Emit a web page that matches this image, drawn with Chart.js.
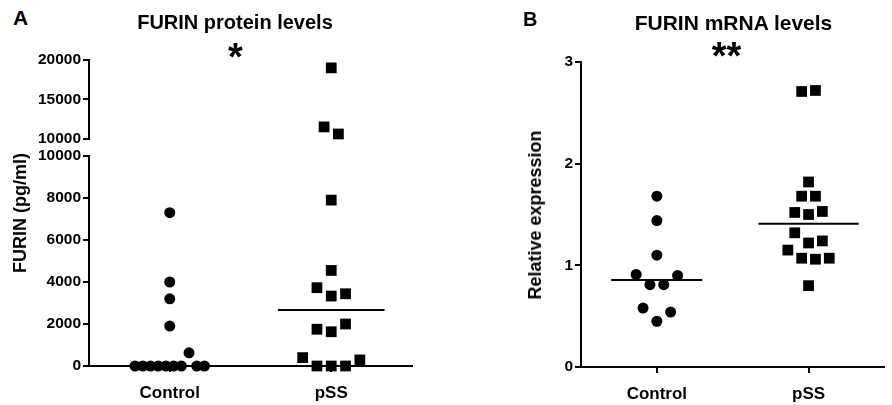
<!DOCTYPE html>
<html><head><meta charset="utf-8">
<script src="https://cdn.jsdelivr.net/npm/chart.js@4"></script>
<style>
html,body{margin:0;padding:0;background:#fff;}
#wrap{position:relative;width:892px;height:405px;overflow:hidden;font-family:"Liberation Sans",Arial,sans-serif;font-weight:bold;color:#000;}
.box{position:absolute;}
.t{position:absolute;white-space:nowrap;line-height:1;}
.c{text-align:center;width:400px;}
.r{transform:translate(-50%,-50%) rotate(-90deg);}
</style></head><body>
<div id="wrap">
  <div class="box" style="left:0;top:40px"><canvas id="aTop" width="430" height="110"></canvas></div>
  <div class="box" style="left:0;top:140px"><canvas id="aLow" width="430" height="265"></canvas></div>
  <div class="box" style="left:460px;top:0"><canvas id="bChart" width="432" height="405"></canvas></div>
  <div class="t" style="left:13px;top:7px;font-size:21px">A</div>
  <div class="t" style="left:523px;top:9px;font-size:20px">B</div>
  <div class="t c" style="left:35px;top:11.5px;font-size:20px">FURIN protein levels</div>
  <div class="t c" style="left:533.5px;top:12px;font-size:21px">FURIN mRNA levels</div>
  <div class="t c" style="left:35.5px;top:38px;font-size:38px">*</div>
  <div class="t c" style="left:526.5px;top:37px;font-size:38px">**</div>
  <div class="t r" style="left:19.5px;top:213px;font-size:18px">FURIN (pg/ml)</div>
  <div class="t r" style="left:534.5px;top:215px;font-size:18px">Relative expression</div>
</div>
<script>
// ---- data ----
const categories = ['Control', 'pSS'];
const proteinControl = [7300, 4000, 3200, 1900, 0, 0, 0, 0, 0, 0, 0, 630, 0, 0];
const proteinPSS = [19000, 11500, 10600, 7900, 4550, 3730, 3330, 3440, 1750, 1630, 2000, 400, 0, 0, 0, 290];
const mrnaControl = [1.68, 1.44, 1.10, 0.91, 0.81, 0.81, 0.90, 0.58, 0.45, 0.54];
const mrnaPSS = [2.71, 2.72, 1.82, 1.68, 1.68, 1.52, 1.50, 1.53, 1.32, 1.22, 1.24, 1.15, 1.07, 1.06, 1.07, 0.80];
const proteinBreak = 10000;
const proteinUpperTicks = [10000, 15000, 20000];
const proteinLowerTicks = [0, 2000, 4000, 6000, 8000, 10000];
const mrnaTicks = [0, 1, 2, 3];

Chart.defaults.font.family = '"Liberation Sans", Arial, sans-serif';
Chart.defaults.font.weight = 'bold';
Chart.defaults.color = '#000';

function median(arr) {
  const s = [...arr].sort((a, b) => a - b);
  const n = s.length;
  return n % 2 ? s[(n - 1) / 2] : (s[n / 2 - 1] + s[n / 2]) / 2;
}
// GraphPad-like column scatter: group close values into rows, spread each row around the category
function swarm(values, center, slot, maxW, thr) {
  const idx = values.map((v, i) => i).sort((a, b) => values[a] - values[b] || a - b);
  const rows = []; let cur = null;
  for (const i of idx) {
    if (!cur || values[i] - cur.start >= thr) { cur = { start: values[i], m: [] }; rows.push(cur); }
    cur.m.push(i);
  }
  const pts = [];
  rows.forEach(r => {
    r.m.sort((a, b) => a - b);
    const n = r.m.length;
    const s = n > 1 ? Math.min(slot, maxW / (n - 1)) : 0;
    r.m.forEach((i, k) => pts.push({ x: center + (k - (n - 1) / 2) * s, y: values[i] }));
  });
  return pts;
}
const gridStyle = { drawOnChartArea: false, drawTicks: true, tickLength: 6, color: '#000', lineWidth: 2 };
const borderStyle = { display: true, color: '#000', width: 2 };
function yScale(min, max, tickArr, width) {
  return {
    type: 'linear', min, max, position: 'left',
    afterBuildTicks: s => { s.ticks = tickArr.map(v => ({ value: v })); },
    afterFit: s => { s.width = width; },
    ticks: { font: { size: 15.5, weight: 'bold' }, padding: 2, color: '#000', callback: v => String(v) },
    grid: gridStyle, border: borderStyle
  };
}
function xScale(show, height) {
  return {
    type: 'linear', min: -0.5, max: 1.5, position: 'bottom', display: show,
    afterBuildTicks: s => { s.ticks = categories.map((c, i) => ({ value: i })); },
    afterFit: s => { s.height = height; },
    ticks: { font: { size: 17, weight: 'bold' }, padding: 11, color: '#000', autoSkip: false, maxRotation: 0,
      callback: v => categories[v] ?? '' },
    grid: gridStyle, border: borderStyle
  };
}
function pointsDs(pts, style, radius) {
  return { data: pts, pointStyle: style, pointRadius: radius, pointHoverRadius: radius,
    pointBackgroundColor: '#000', pointBorderWidth: 0, showLine: false, clip: false };
}
function medianDs(values, center, half) {
  const m = median(values);
  return { data: [{ x: center - half, y: m }, { x: center + half, y: m }], showLine: true,
    borderColor: '#000', borderWidth: 2, pointRadius: 0, clip: false };
}
function make(id, datasets, scales, padding) {
  return new Chart(document.getElementById(id), {
    type: 'scatter',
    data: { datasets },
    options: {
      responsive: false, animation: false, events: [],
      layout: { padding },
      plugins: { legend: { display: false }, tooltip: { enabled: false } },
      scales
    }
  });
}
const SLOT_A = 0.0885, SLOT_B = 0.091, MAXW = 0.43, CIRC = 5.5, SQ = 7.6;

// Panel A, upper segment of the broken axis
make('aTop', [
  pointsDs(swarm(proteinPSS.filter(v => v > proteinBreak), 1, SLOT_A, MAXW, 1700), 'rect', SQ)
], { x: xScale(false, 0), y: yScale(10000, 20000, proteinUpperTicks, 89) },
  { top: 20, bottom: 11, left: 0, right: 18 });

// Panel A, lower segment
make('aLow', [
  medianDs(proteinControl, 0, 0.33),
  medianDs(proteinPSS, 1, 0.33),
  pointsDs(swarm(proteinControl.filter(v => v <= proteinBreak), 0, SLOT_A, MAXW, 650), 'circle', CIRC),
  pointsDs(swarm(proteinPSS.filter(v => v <= proteinBreak), 1, SLOT_A, MAXW, 650), 'rect', SQ)
], { x: xScale(true, 39), y: yScale(0, 10000, proteinLowerTicks, 89) },
  { top: 16, bottom: 0, left: 0, right: 18 });

// Panel B
make('bChart', [
  medianDs(mrnaControl, 0, 0.30),
  medianDs(mrnaPSS, 1, 0.33),
  pointsDs(swarm(mrnaControl, 0, SLOT_B, MAXW, 0.135), 'circle', CIRC),
  pointsDs(swarm(mrnaPSS, 1, SLOT_B, MAXW, 0.135), 'rect', SQ)
], { x: xScale(true, 38), y: yScale(0, 3, mrnaTicks, 121) },
  { top: 62, bottom: 0, left: 0, right: 4 });
</script>
</body></html>
